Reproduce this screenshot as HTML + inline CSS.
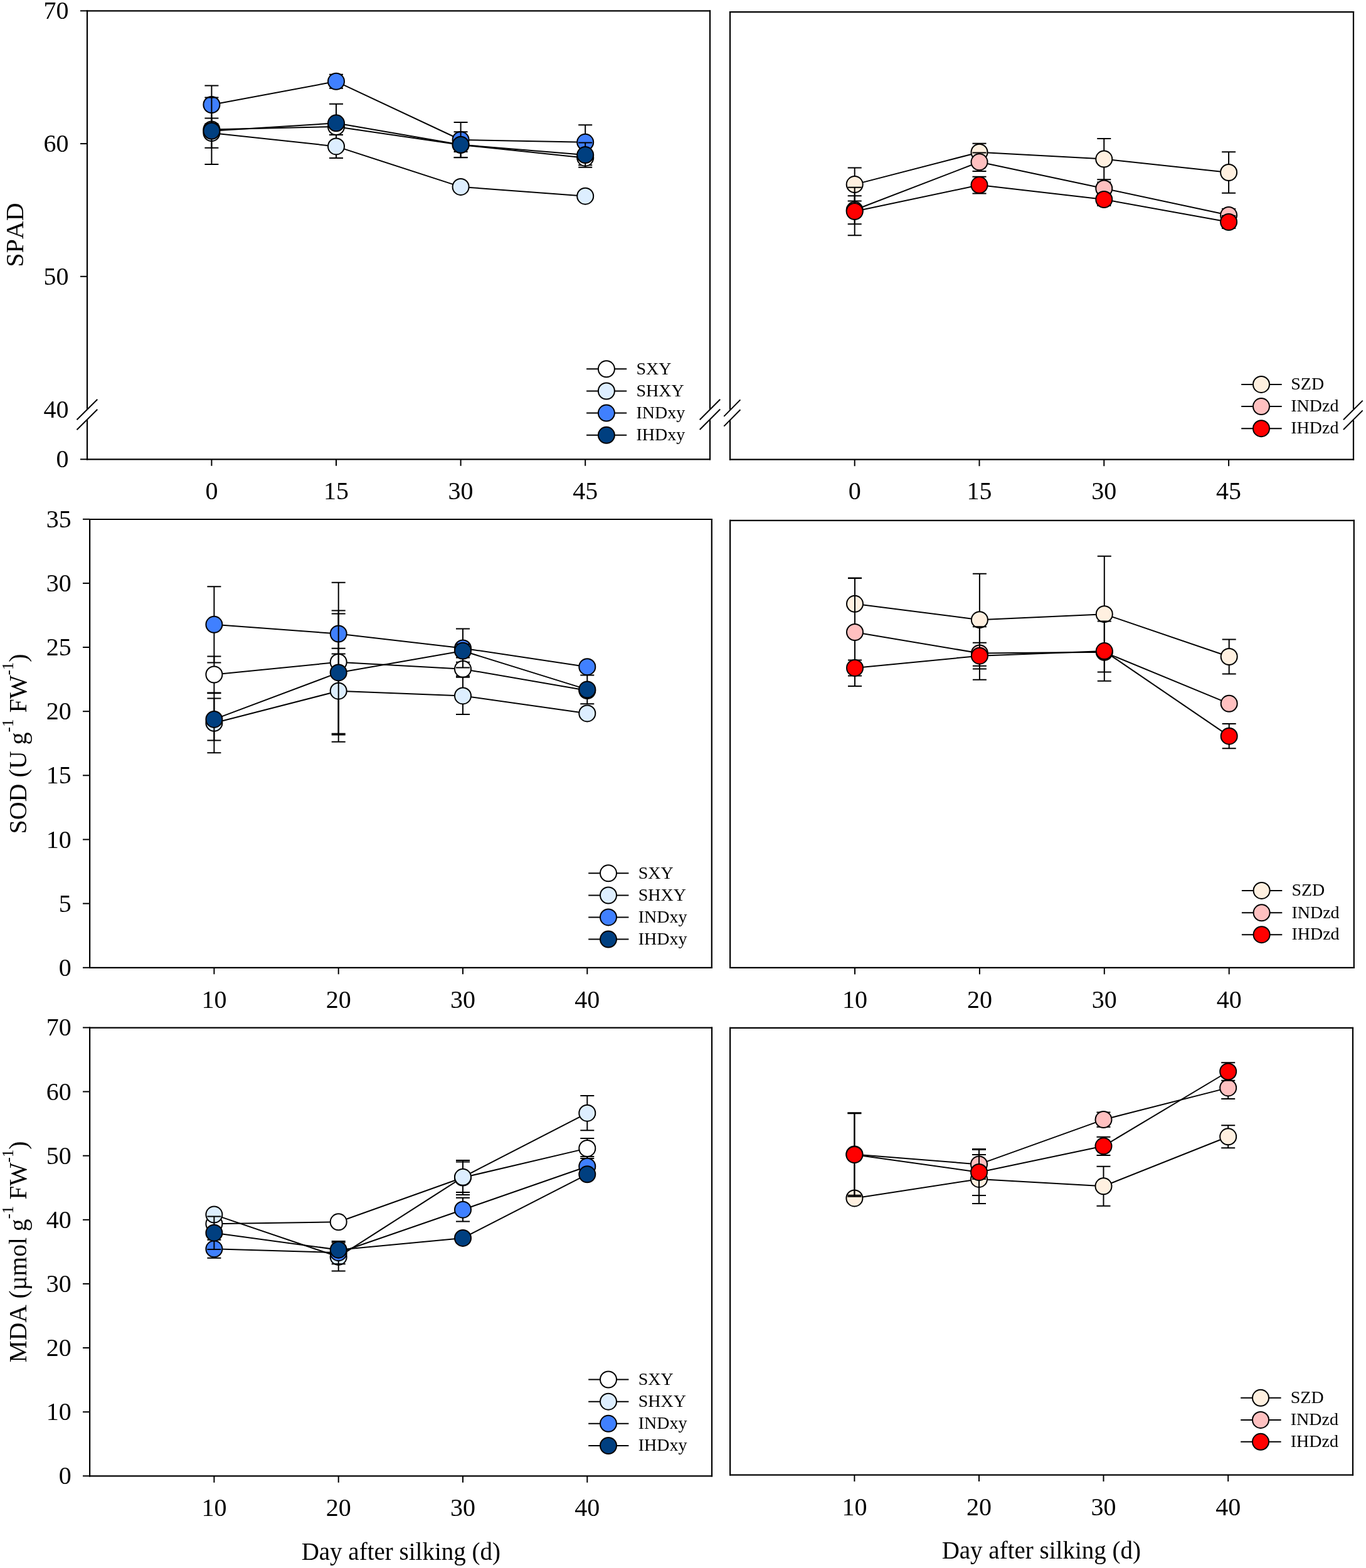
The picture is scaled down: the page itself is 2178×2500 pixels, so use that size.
<!DOCTYPE html><html><head><meta charset="utf-8"><title>Figure</title><style>html,body{margin:0;padding:0;background:#fff}svg{display:block}text{font-family:'Liberation Serif', 'Times New Roman', serif;fill:#000;font-kerning:none}</style></head><body>
<svg width="2178" height="2500" viewBox="0 0 2178 2500">
<rect width="2178" height="2500" fill="#fff"/>
<line x1="139.0" y1="17.3" x2="1132.0" y2="17.3" stroke="#000" stroke-width="2.2" stroke-linecap="square"/>
<line x1="139.0" y1="732.3" x2="1132.0" y2="732.3" stroke="#000" stroke-width="2.2" stroke-linecap="square"/>
<line x1="139.0" y1="17.3" x2="139.0" y2="651.6" stroke="#000" stroke-width="2.2" stroke-linecap="square"/>
<line x1="139.0" y1="670.2" x2="139.0" y2="732.3" stroke="#000" stroke-width="2.2" stroke-linecap="square"/>
<line x1="1132.0" y1="17.3" x2="1132.0" y2="651.8" stroke="#000" stroke-width="2.2" stroke-linecap="square"/>
<line x1="1132.0" y1="670.2" x2="1132.0" y2="732.3" stroke="#000" stroke-width="2.2" stroke-linecap="square"/>
<line x1="1164.0" y1="19.1" x2="2158.0" y2="19.1" stroke="#000" stroke-width="2.2" stroke-linecap="square"/>
<line x1="1164.0" y1="732.7" x2="2158.0" y2="732.7" stroke="#000" stroke-width="2.2" stroke-linecap="square"/>
<line x1="1164.0" y1="19.1" x2="1164.0" y2="652.6" stroke="#000" stroke-width="2.2" stroke-linecap="square"/>
<line x1="1164.0" y1="670.6" x2="1164.0" y2="732.7" stroke="#000" stroke-width="2.2" stroke-linecap="square"/>
<line x1="2158.0" y1="19.1" x2="2158.0" y2="651.2" stroke="#000" stroke-width="2.2" stroke-linecap="square"/>
<line x1="2158.0" y1="671.2" x2="2158.0" y2="732.7" stroke="#000" stroke-width="2.2" stroke-linecap="square"/>
<line x1="122.5" y1="669.2" x2="155.3" y2="636.7" stroke="#000" stroke-width="2.0"/>
<line x1="122.5" y1="685.3" x2="155.3" y2="652.8" stroke="#000" stroke-width="2.0"/>
<line x1="1115.7" y1="669.2" x2="1148.2" y2="636.7" stroke="#000" stroke-width="2.0"/>
<line x1="1115.7" y1="685.0" x2="1148.2" y2="652.5" stroke="#000" stroke-width="2.0"/>
<line x1="1154.3" y1="663.9" x2="1180.4" y2="637.4" stroke="#000" stroke-width="2.0"/>
<line x1="1154.3" y1="679.6" x2="1180.4" y2="653.2" stroke="#000" stroke-width="2.0"/>
<line x1="2142.0" y1="669.3" x2="2172.7" y2="638.6" stroke="#000" stroke-width="2.0"/>
<line x1="2142.0" y1="685.0" x2="2172.7" y2="654.4" stroke="#000" stroke-width="2.0"/>
<line x1="128.0" y1="17.3" x2="139.0" y2="17.3" stroke="#000" stroke-width="2.0"/>
<text x="109.5" y="30.3" font-size="40" text-anchor="end">70</text>
<line x1="128.0" y1="229.1" x2="139.0" y2="229.1" stroke="#000" stroke-width="2.0"/>
<text x="109.5" y="242.1" font-size="40" text-anchor="end">60</text>
<line x1="128.0" y1="440.8" x2="139.0" y2="440.8" stroke="#000" stroke-width="2.0"/>
<text x="109.5" y="453.8" font-size="40" text-anchor="end">50</text>
<text x="109.5" y="665.6" font-size="40" text-anchor="end">40</text>
<line x1="128.0" y1="732.3" x2="139.0" y2="732.3" stroke="#000" stroke-width="2.0"/>
<text x="109.5" y="745.3" font-size="40" text-anchor="end">0</text>
<line x1="337.4" y1="732.3" x2="337.4" y2="742.8" stroke="#000" stroke-width="2.0"/>
<text x="337.4" y="796.2" font-size="40" text-anchor="middle">0</text>
<line x1="536.0" y1="732.3" x2="536.0" y2="742.8" stroke="#000" stroke-width="2.0"/>
<text x="536.0" y="796.2" font-size="40" text-anchor="middle">15</text>
<line x1="734.6" y1="732.3" x2="734.6" y2="742.8" stroke="#000" stroke-width="2.0"/>
<text x="734.6" y="796.2" font-size="40" text-anchor="middle">30</text>
<line x1="933.2" y1="732.3" x2="933.2" y2="742.8" stroke="#000" stroke-width="2.0"/>
<text x="933.2" y="796.2" font-size="40" text-anchor="middle">45</text>
<line x1="1362.7" y1="732.7" x2="1362.7" y2="743.2" stroke="#000" stroke-width="2.0"/>
<text x="1362.7" y="796.2" font-size="40" text-anchor="middle">0</text>
<line x1="1561.5" y1="732.7" x2="1561.5" y2="743.2" stroke="#000" stroke-width="2.0"/>
<text x="1561.5" y="796.2" font-size="40" text-anchor="middle">15</text>
<line x1="1760.3" y1="732.7" x2="1760.3" y2="743.2" stroke="#000" stroke-width="2.0"/>
<text x="1760.3" y="796.2" font-size="40" text-anchor="middle">30</text>
<line x1="1959.1" y1="732.7" x2="1959.1" y2="743.2" stroke="#000" stroke-width="2.0"/>
<text x="1959.1" y="796.2" font-size="40" text-anchor="middle">45</text>
<text x="0" y="0" font-size="40" text-anchor="middle" transform="translate(36.8 374.6) rotate(-90)">SPAD</text>
<polyline points="337.4,206.4 536.0,202.0 734.6,231.0 933.2,251.7" fill="none" stroke="#000" stroke-width="2.0" stroke-linejoin="round"/>
<path d="M536.0 165.8V238.2M525.0 165.8H547.0M525.0 238.2H547.0" stroke="#000" stroke-width="2.0" fill="none"/>
<path d="M734.6 220.0V242.0M723.6 220.0H745.6M723.6 242.0H745.6" stroke="#000" stroke-width="2.0" fill="none"/>
<path d="M933.2 240.1V263.3M922.2 240.1H944.2M922.2 263.3H944.2" stroke="#000" stroke-width="2.0" fill="none"/>
<circle cx="337.4" cy="206.4" r="13.0" fill="#FFFFFF" stroke="#000" stroke-width="2.0"/>
<circle cx="536.0" cy="202.0" r="13.0" fill="#FFFFFF" stroke="#000" stroke-width="2.0"/>
<circle cx="734.6" cy="231.0" r="13.0" fill="#FFFFFF" stroke="#000" stroke-width="2.0"/>
<circle cx="933.2" cy="251.7" r="13.0" fill="#FFFFFF" stroke="#000" stroke-width="2.0"/>
<polyline points="337.4,212.1 536.0,233.4 734.6,297.9 933.2,312.7" fill="none" stroke="#000" stroke-width="2.0" stroke-linejoin="round"/>
<path d="M337.4 188.4V235.8M326.4 188.4H348.4M326.4 235.8H348.4" stroke="#000" stroke-width="2.0" fill="none"/>
<path d="M536.0 214.9V251.9M525.0 214.9H547.0M525.0 251.9H547.0" stroke="#000" stroke-width="2.0" fill="none"/>
<circle cx="337.4" cy="212.1" r="13.0" fill="#DDEEFF" stroke="#000" stroke-width="2.0"/>
<circle cx="536.0" cy="233.4" r="13.0" fill="#DDEEFF" stroke="#000" stroke-width="2.0"/>
<circle cx="734.6" cy="297.9" r="13.0" fill="#DDEEFF" stroke="#000" stroke-width="2.0"/>
<circle cx="933.2" cy="312.7" r="13.0" fill="#DDEEFF" stroke="#000" stroke-width="2.0"/>
<polyline points="337.4,167.0 536.0,129.8 734.6,223.0 933.2,226.8" fill="none" stroke="#000" stroke-width="2.0" stroke-linejoin="round"/>
<path d="M337.4 136.5V197.5M326.4 136.5H348.4M326.4 197.5H348.4" stroke="#000" stroke-width="2.0" fill="none"/>
<path d="M536.0 118.8V140.8M525.0 118.8H547.0M525.0 140.8H547.0" stroke="#000" stroke-width="2.0" fill="none"/>
<path d="M734.6 195.0V251.0M723.6 195.0H745.6M723.6 251.0H745.6" stroke="#000" stroke-width="2.0" fill="none"/>
<path d="M933.2 199.2V254.4M922.2 199.2H944.2M922.2 254.4H944.2" stroke="#000" stroke-width="2.0" fill="none"/>
<circle cx="337.4" cy="167.0" r="13.0" fill="#4080FF" stroke="#000" stroke-width="2.0"/>
<circle cx="536.0" cy="129.8" r="13.0" fill="#4080FF" stroke="#000" stroke-width="2.0"/>
<circle cx="734.6" cy="223.0" r="13.0" fill="#4080FF" stroke="#000" stroke-width="2.0"/>
<circle cx="933.2" cy="226.8" r="13.0" fill="#4080FF" stroke="#000" stroke-width="2.0"/>
<polyline points="337.4,208.8 536.0,196.3 734.6,230.7 933.2,247.1" fill="none" stroke="#000" stroke-width="2.0" stroke-linejoin="round"/>
<path d="M337.4 155.5V262.1M326.4 155.5H348.4M326.4 262.1H348.4" stroke="#000" stroke-width="2.0" fill="none"/>
<path d="M734.6 210.2V251.2M723.6 210.2H745.6M723.6 251.2H745.6" stroke="#000" stroke-width="2.0" fill="none"/>
<path d="M933.2 227.5V266.7M922.2 227.5H944.2M922.2 266.7H944.2" stroke="#000" stroke-width="2.0" fill="none"/>
<circle cx="337.4" cy="208.8" r="13.0" fill="#003F80" stroke="#000" stroke-width="2.0"/>
<circle cx="536.0" cy="196.3" r="13.0" fill="#003F80" stroke="#000" stroke-width="2.0"/>
<circle cx="734.6" cy="230.7" r="13.0" fill="#003F80" stroke="#000" stroke-width="2.0"/>
<circle cx="933.2" cy="247.1" r="13.0" fill="#003F80" stroke="#000" stroke-width="2.0"/>
<line x1="935.1" y1="588.3" x2="999.2" y2="588.3" stroke="#000" stroke-width="2.0"/>
<circle cx="966.9" cy="588.3" r="13.0" fill="#FFFFFF" stroke="#000" stroke-width="2.0"/>
<text x="1014.5" y="596.5" font-size="28" text-anchor="start">SXY</text>
<line x1="935.1" y1="623.5" x2="999.2" y2="623.5" stroke="#000" stroke-width="2.0"/>
<circle cx="966.9" cy="623.5" r="13.0" fill="#DDEEFF" stroke="#000" stroke-width="2.0"/>
<text x="1014.5" y="631.7" font-size="28" text-anchor="start">SHXY</text>
<line x1="935.1" y1="658.6" x2="999.2" y2="658.6" stroke="#000" stroke-width="2.0"/>
<circle cx="966.9" cy="658.6" r="13.0" fill="#4080FF" stroke="#000" stroke-width="2.0"/>
<text x="1014.5" y="666.8" font-size="28" text-anchor="start">INDxy</text>
<line x1="935.1" y1="693.8" x2="999.2" y2="693.8" stroke="#000" stroke-width="2.0"/>
<circle cx="966.9" cy="693.8" r="13.0" fill="#003F80" stroke="#000" stroke-width="2.0"/>
<text x="1014.5" y="702.0" font-size="28" text-anchor="start">IHDxy</text>
<polyline points="1362.7,294.1 1561.5,242.7 1760.3,253.6 1959.1,275.0" fill="none" stroke="#000" stroke-width="2.0" stroke-linejoin="round"/>
<path d="M1362.7 267.6V320.6M1351.7 267.6H1373.7M1351.7 320.6H1373.7" stroke="#000" stroke-width="2.0" fill="none"/>
<path d="M1561.5 228.8V256.6M1550.5 228.8H1572.5M1550.5 256.6H1572.5" stroke="#000" stroke-width="2.0" fill="none"/>
<path d="M1760.3 220.9V286.3M1749.3 220.9H1771.3M1749.3 286.3H1771.3" stroke="#000" stroke-width="2.0" fill="none"/>
<path d="M1959.1 242.3V307.7M1948.1 242.3H1970.1M1948.1 307.7H1970.1" stroke="#000" stroke-width="2.0" fill="none"/>
<circle cx="1362.7" cy="294.1" r="13.0" fill="#FFF0E0" stroke="#000" stroke-width="2.0"/>
<circle cx="1561.5" cy="242.7" r="13.0" fill="#FFF0E0" stroke="#000" stroke-width="2.0"/>
<circle cx="1760.3" cy="253.6" r="13.0" fill="#FFF0E0" stroke="#000" stroke-width="2.0"/>
<circle cx="1959.1" cy="275.0" r="13.0" fill="#FFF0E0" stroke="#000" stroke-width="2.0"/>
<polyline points="1362.7,334.8 1561.5,258.3 1760.3,300.5 1959.1,343.1" fill="none" stroke="#000" stroke-width="2.0" stroke-linejoin="round"/>
<path d="M1362.7 312.3V357.3M1351.7 312.3H1373.7M1351.7 357.3H1373.7" stroke="#000" stroke-width="2.0" fill="none"/>
<path d="M1561.5 243.5V273.1M1550.5 243.5H1572.5M1550.5 273.1H1572.5" stroke="#000" stroke-width="2.0" fill="none"/>
<path d="M1760.3 290.5V310.5M1749.3 290.5H1771.3M1749.3 310.5H1771.3" stroke="#000" stroke-width="2.0" fill="none"/>
<path d="M1959.1 333.1V353.1M1948.1 333.1H1970.1M1948.1 353.1H1970.1" stroke="#000" stroke-width="2.0" fill="none"/>
<circle cx="1362.7" cy="334.8" r="13.0" fill="#FFC0C0" stroke="#000" stroke-width="2.0"/>
<circle cx="1561.5" cy="258.3" r="13.0" fill="#FFC0C0" stroke="#000" stroke-width="2.0"/>
<circle cx="1760.3" cy="300.5" r="13.0" fill="#FFC0C0" stroke="#000" stroke-width="2.0"/>
<circle cx="1959.1" cy="343.1" r="13.0" fill="#FFC0C0" stroke="#000" stroke-width="2.0"/>
<polyline points="1362.7,337.0 1561.5,295.1 1760.3,318.0 1959.1,354.0" fill="none" stroke="#000" stroke-width="2.0" stroke-linejoin="round"/>
<path d="M1362.7 298.7V375.3M1351.7 298.7H1373.7M1351.7 375.3H1373.7" stroke="#000" stroke-width="2.0" fill="none"/>
<path d="M1561.5 281.7V308.5M1550.5 281.7H1572.5M1550.5 308.5H1572.5" stroke="#000" stroke-width="2.0" fill="none"/>
<path d="M1760.3 308.0V328.0M1749.3 308.0H1771.3M1749.3 328.0H1771.3" stroke="#000" stroke-width="2.0" fill="none"/>
<path d="M1959.1 344.0V364.0M1948.1 344.0H1970.1M1948.1 364.0H1970.1" stroke="#000" stroke-width="2.0" fill="none"/>
<circle cx="1362.7" cy="337.0" r="13.0" fill="#FF0000" stroke="#000" stroke-width="2.0"/>
<circle cx="1561.5" cy="295.1" r="13.0" fill="#FF0000" stroke="#000" stroke-width="2.0"/>
<circle cx="1760.3" cy="318.0" r="13.0" fill="#FF0000" stroke="#000" stroke-width="2.0"/>
<circle cx="1959.1" cy="354.0" r="13.0" fill="#FF0000" stroke="#000" stroke-width="2.0"/>
<line x1="1979.2" y1="612.9" x2="2043.7" y2="612.9" stroke="#000" stroke-width="2.0"/>
<circle cx="2011.0" cy="612.9" r="13.0" fill="#FFF0E0" stroke="#000" stroke-width="2.0"/>
<text x="2058.3" y="621.1" font-size="28" text-anchor="start">SZD</text>
<line x1="1979.2" y1="648.1" x2="2043.7" y2="648.1" stroke="#000" stroke-width="2.0"/>
<circle cx="2011.0" cy="648.1" r="13.0" fill="#FFC0C0" stroke="#000" stroke-width="2.0"/>
<text x="2058.3" y="656.3" font-size="28" text-anchor="start">INDzd</text>
<line x1="1979.2" y1="683.2" x2="2043.7" y2="683.2" stroke="#000" stroke-width="2.0"/>
<circle cx="2011.0" cy="683.2" r="13.0" fill="#FF0000" stroke="#000" stroke-width="2.0"/>
<text x="2058.3" y="691.4" font-size="28" text-anchor="start">IHDzd</text>
<line x1="143.1" y1="828.0" x2="1134.8" y2="828.0" stroke="#000" stroke-width="2.2" stroke-linecap="square"/>
<line x1="143.1" y1="1542.8" x2="1134.8" y2="1542.8" stroke="#000" stroke-width="2.2" stroke-linecap="square"/>
<line x1="143.1" y1="828.0" x2="143.1" y2="1542.8" stroke="#000" stroke-width="2.2" stroke-linecap="square"/>
<line x1="1134.8" y1="828.0" x2="1134.8" y2="1542.8" stroke="#000" stroke-width="2.2" stroke-linecap="square"/>
<line x1="1164.1" y1="829.8" x2="2158.8" y2="829.8" stroke="#000" stroke-width="2.2" stroke-linecap="square"/>
<line x1="1164.1" y1="1542.9" x2="2158.8" y2="1542.9" stroke="#000" stroke-width="2.2" stroke-linecap="square"/>
<line x1="1164.1" y1="829.8" x2="1164.1" y2="1542.9" stroke="#000" stroke-width="2.2" stroke-linecap="square"/>
<line x1="2158.8" y1="829.8" x2="2158.8" y2="1542.9" stroke="#000" stroke-width="2.2" stroke-linecap="square"/>
<line x1="132.0" y1="1542.8" x2="143.1" y2="1542.8" stroke="#000" stroke-width="2.0"/>
<text x="113.8" y="1555.8" font-size="40" text-anchor="end">0</text>
<line x1="132.0" y1="1440.6" x2="143.1" y2="1440.6" stroke="#000" stroke-width="2.0"/>
<text x="113.8" y="1453.6" font-size="40" text-anchor="end">5</text>
<line x1="132.0" y1="1338.5" x2="143.1" y2="1338.5" stroke="#000" stroke-width="2.0"/>
<text x="113.8" y="1351.5" font-size="40" text-anchor="end">10</text>
<line x1="132.0" y1="1236.3" x2="143.1" y2="1236.3" stroke="#000" stroke-width="2.0"/>
<text x="113.8" y="1249.3" font-size="40" text-anchor="end">15</text>
<line x1="132.0" y1="1134.2" x2="143.1" y2="1134.2" stroke="#000" stroke-width="2.0"/>
<text x="113.8" y="1147.2" font-size="40" text-anchor="end">20</text>
<line x1="132.0" y1="1032.0" x2="143.1" y2="1032.0" stroke="#000" stroke-width="2.0"/>
<text x="113.8" y="1045.0" font-size="40" text-anchor="end">25</text>
<line x1="132.0" y1="929.9" x2="143.1" y2="929.9" stroke="#000" stroke-width="2.0"/>
<text x="113.8" y="942.9" font-size="40" text-anchor="end">30</text>
<line x1="132.0" y1="827.8" x2="143.1" y2="827.8" stroke="#000" stroke-width="2.0"/>
<text x="113.8" y="840.8" font-size="40" text-anchor="end">35</text>
<line x1="341.4" y1="1542.8" x2="341.4" y2="1553.3" stroke="#000" stroke-width="2.0"/>
<text x="341.4" y="1607.2" font-size="40" text-anchor="middle">10</text>
<line x1="539.7" y1="1542.8" x2="539.7" y2="1553.3" stroke="#000" stroke-width="2.0"/>
<text x="539.7" y="1607.2" font-size="40" text-anchor="middle">20</text>
<line x1="738.0" y1="1542.8" x2="738.0" y2="1553.3" stroke="#000" stroke-width="2.0"/>
<text x="738.0" y="1607.2" font-size="40" text-anchor="middle">30</text>
<line x1="936.3" y1="1542.8" x2="936.3" y2="1553.3" stroke="#000" stroke-width="2.0"/>
<text x="936.3" y="1607.2" font-size="40" text-anchor="middle">40</text>
<line x1="1363.0" y1="1542.9" x2="1363.0" y2="1553.4" stroke="#000" stroke-width="2.0"/>
<text x="1363.0" y="1607.2" font-size="40" text-anchor="middle">10</text>
<line x1="1561.9" y1="1542.9" x2="1561.9" y2="1553.4" stroke="#000" stroke-width="2.0"/>
<text x="1561.9" y="1607.2" font-size="40" text-anchor="middle">20</text>
<line x1="1760.8" y1="1542.9" x2="1760.8" y2="1553.4" stroke="#000" stroke-width="2.0"/>
<text x="1760.8" y="1607.2" font-size="40" text-anchor="middle">30</text>
<line x1="1959.7" y1="1542.9" x2="1959.7" y2="1553.4" stroke="#000" stroke-width="2.0"/>
<text x="1959.7" y="1607.2" font-size="40" text-anchor="middle">40</text>
<text x="0" y="0" font-size="40" text-anchor="middle" transform="translate(41.5 1186.0) rotate(-90)">SOD (U g<tspan font-size="25" dy="-20.7">-1</tspan><tspan dy="20.7"> FW</tspan><tspan font-size="25" dy="-20.7">-1</tspan><tspan dy="20.7">)</tspan></text>
<polyline points="341.4,1075.5 539.7,1055.7 738.0,1066.7 936.3,1101.0" fill="none" stroke="#000" stroke-width="2.0" stroke-linejoin="round"/>
<path d="M341.4 1046.5V1104.5M330.4 1046.5H352.4M330.4 1104.5H352.4" stroke="#000" stroke-width="2.0" fill="none"/>
<path d="M539.7 928.7V1182.7M528.7 928.7H550.7M528.7 1182.7H550.7" stroke="#000" stroke-width="2.0" fill="none"/>
<path d="M738.0 1055.7V1077.7M727.0 1055.7H749.0M727.0 1077.7H749.0" stroke="#000" stroke-width="2.0" fill="none"/>
<circle cx="341.4" cy="1075.5" r="13.0" fill="#FFFFFF" stroke="#000" stroke-width="2.0"/>
<circle cx="539.7" cy="1055.7" r="13.0" fill="#FFFFFF" stroke="#000" stroke-width="2.0"/>
<circle cx="738.0" cy="1066.7" r="13.0" fill="#FFFFFF" stroke="#000" stroke-width="2.0"/>
<circle cx="936.3" cy="1101.0" r="13.0" fill="#FFFFFF" stroke="#000" stroke-width="2.0"/>
<polyline points="341.4,1152.8 539.7,1101.7 738.0,1109.4 936.3,1137.4" fill="none" stroke="#000" stroke-width="2.0" stroke-linejoin="round"/>
<path d="M341.4 1105.3V1200.3M330.4 1105.3H352.4M330.4 1200.3H352.4" stroke="#000" stroke-width="2.0" fill="none"/>
<path d="M539.7 1033.7V1169.7M528.7 1033.7H550.7M528.7 1169.7H550.7" stroke="#000" stroke-width="2.0" fill="none"/>
<path d="M738.0 1079.8V1139.0M727.0 1079.8H749.0M727.0 1139.0H749.0" stroke="#000" stroke-width="2.0" fill="none"/>
<circle cx="341.4" cy="1152.8" r="13.0" fill="#DDEEFF" stroke="#000" stroke-width="2.0"/>
<circle cx="539.7" cy="1101.7" r="13.0" fill="#DDEEFF" stroke="#000" stroke-width="2.0"/>
<circle cx="738.0" cy="1109.4" r="13.0" fill="#DDEEFF" stroke="#000" stroke-width="2.0"/>
<circle cx="936.3" cy="1137.4" r="13.0" fill="#DDEEFF" stroke="#000" stroke-width="2.0"/>
<polyline points="341.4,995.8 539.7,1010.5 738.0,1033.5 936.3,1063.2" fill="none" stroke="#000" stroke-width="2.0" stroke-linejoin="round"/>
<path d="M341.4 935.2V1056.4M330.4 935.2H352.4M330.4 1056.4H352.4" stroke="#000" stroke-width="2.0" fill="none"/>
<path d="M539.7 978.5V1042.5M528.7 978.5H550.7M528.7 1042.5H550.7" stroke="#000" stroke-width="2.0" fill="none"/>
<path d="M738.0 1002.5V1064.5M727.0 1002.5H749.0M727.0 1064.5H749.0" stroke="#000" stroke-width="2.0" fill="none"/>
<circle cx="341.4" cy="995.8" r="13.0" fill="#4080FF" stroke="#000" stroke-width="2.0"/>
<circle cx="539.7" cy="1010.5" r="13.0" fill="#4080FF" stroke="#000" stroke-width="2.0"/>
<circle cx="738.0" cy="1033.5" r="13.0" fill="#4080FF" stroke="#000" stroke-width="2.0"/>
<circle cx="936.3" cy="1063.2" r="13.0" fill="#4080FF" stroke="#000" stroke-width="2.0"/>
<polyline points="341.4,1146.9 539.7,1072.4 738.0,1037.8 936.3,1099.4" fill="none" stroke="#000" stroke-width="2.0" stroke-linejoin="round"/>
<path d="M341.4 1113.4V1180.4M330.4 1113.4H352.4M330.4 1180.4H352.4" stroke="#000" stroke-width="2.0" fill="none"/>
<path d="M539.7 973.4V1171.4M528.7 973.4H550.7M528.7 1171.4H550.7" stroke="#000" stroke-width="2.0" fill="none"/>
<path d="M738.0 1027.0V1048.6M727.0 1027.0H749.0M727.0 1048.6H749.0" stroke="#000" stroke-width="2.0" fill="none"/>
<path d="M936.3 1076.6V1122.2M925.3 1076.6H947.3M925.3 1122.2H947.3" stroke="#000" stroke-width="2.0" fill="none"/>
<circle cx="341.4" cy="1146.9" r="13.0" fill="#003F80" stroke="#000" stroke-width="2.0"/>
<circle cx="539.7" cy="1072.4" r="13.0" fill="#003F80" stroke="#000" stroke-width="2.0"/>
<circle cx="738.0" cy="1037.8" r="13.0" fill="#003F80" stroke="#000" stroke-width="2.0"/>
<circle cx="936.3" cy="1099.4" r="13.0" fill="#003F80" stroke="#000" stroke-width="2.0"/>
<line x1="938.2" y1="1392.3" x2="1002.4" y2="1392.3" stroke="#000" stroke-width="2.0"/>
<circle cx="970.0" cy="1392.3" r="13.0" fill="#FFFFFF" stroke="#000" stroke-width="2.0"/>
<text x="1017.8" y="1400.5" font-size="28" text-anchor="start">SXY</text>
<line x1="938.2" y1="1427.5" x2="1002.4" y2="1427.5" stroke="#000" stroke-width="2.0"/>
<circle cx="970.0" cy="1427.5" r="13.0" fill="#DDEEFF" stroke="#000" stroke-width="2.0"/>
<text x="1017.8" y="1435.7" font-size="28" text-anchor="start">SHXY</text>
<line x1="938.2" y1="1462.4" x2="1002.4" y2="1462.4" stroke="#000" stroke-width="2.0"/>
<circle cx="970.0" cy="1462.4" r="13.0" fill="#4080FF" stroke="#000" stroke-width="2.0"/>
<text x="1017.8" y="1470.6" font-size="28" text-anchor="start">INDxy</text>
<line x1="938.2" y1="1497.6" x2="1002.4" y2="1497.6" stroke="#000" stroke-width="2.0"/>
<circle cx="970.0" cy="1497.6" r="13.0" fill="#003F80" stroke="#000" stroke-width="2.0"/>
<text x="1017.8" y="1505.8" font-size="28" text-anchor="start">IHDxy</text>
<polyline points="1363.0,962.8 1561.9,988.2 1760.8,979.2 1959.7,1047.0" fill="none" stroke="#000" stroke-width="2.0" stroke-linejoin="round"/>
<path d="M1363.0 921.4V1004.2M1352.0 921.4H1374.0M1352.0 1004.2H1374.0" stroke="#000" stroke-width="2.0" fill="none"/>
<path d="M1561.9 914.7V1061.7M1550.9 914.7H1572.9M1550.9 1061.7H1572.9" stroke="#000" stroke-width="2.0" fill="none"/>
<path d="M1760.8 886.8V1071.6M1749.8 886.8H1771.8M1749.8 1071.6H1771.8" stroke="#000" stroke-width="2.0" fill="none"/>
<path d="M1959.7 1019.6V1074.4M1948.7 1019.6H1970.7M1948.7 1074.4H1970.7" stroke="#000" stroke-width="2.0" fill="none"/>
<circle cx="1363.0" cy="962.8" r="13.0" fill="#FFF0E0" stroke="#000" stroke-width="2.0"/>
<circle cx="1561.9" cy="988.2" r="13.0" fill="#FFF0E0" stroke="#000" stroke-width="2.0"/>
<circle cx="1760.8" cy="979.2" r="13.0" fill="#FFF0E0" stroke="#000" stroke-width="2.0"/>
<circle cx="1959.7" cy="1047.0" r="13.0" fill="#FFF0E0" stroke="#000" stroke-width="2.0"/>
<polyline points="1363.0,1008.0 1561.9,1041.5 1760.8,1039.8 1959.7,1121.8" fill="none" stroke="#000" stroke-width="2.0" stroke-linejoin="round"/>
<path d="M1363.0 922.0V1094.0M1352.0 922.0H1374.0M1352.0 1094.0H1374.0" stroke="#000" stroke-width="2.0" fill="none"/>
<path d="M1561.9 999.2V1083.8M1550.9 999.2H1572.9M1550.9 1083.8H1572.9" stroke="#000" stroke-width="2.0" fill="none"/>
<circle cx="1363.0" cy="1008.0" r="13.0" fill="#FFC0C0" stroke="#000" stroke-width="2.0"/>
<circle cx="1561.9" cy="1041.5" r="13.0" fill="#FFC0C0" stroke="#000" stroke-width="2.0"/>
<circle cx="1760.8" cy="1039.8" r="13.0" fill="#FFC0C0" stroke="#000" stroke-width="2.0"/>
<circle cx="1959.7" cy="1121.8" r="13.0" fill="#FFC0C0" stroke="#000" stroke-width="2.0"/>
<polyline points="1363.0,1064.9 1561.9,1045.7 1760.8,1038.1 1959.7,1173.7" fill="none" stroke="#000" stroke-width="2.0" stroke-linejoin="round"/>
<path d="M1363.0 1052.4V1077.4M1352.0 1052.4H1374.0M1352.0 1077.4H1374.0" stroke="#000" stroke-width="2.0" fill="none"/>
<path d="M1561.9 1024.8V1066.6M1550.9 1024.8H1572.9M1550.9 1066.6H1572.9" stroke="#000" stroke-width="2.0" fill="none"/>
<path d="M1760.8 990.4V1085.8M1749.8 990.4H1771.8M1749.8 1085.8H1771.8" stroke="#000" stroke-width="2.0" fill="none"/>
<path d="M1959.7 1154.1V1193.3M1948.7 1154.1H1970.7M1948.7 1193.3H1970.7" stroke="#000" stroke-width="2.0" fill="none"/>
<circle cx="1363.0" cy="1064.9" r="13.0" fill="#FF0000" stroke="#000" stroke-width="2.0"/>
<circle cx="1561.9" cy="1045.7" r="13.0" fill="#FF0000" stroke="#000" stroke-width="2.0"/>
<circle cx="1760.8" cy="1038.1" r="13.0" fill="#FF0000" stroke="#000" stroke-width="2.0"/>
<circle cx="1959.7" cy="1173.7" r="13.0" fill="#FF0000" stroke="#000" stroke-width="2.0"/>
<line x1="1979.9" y1="1419.9" x2="2044.3" y2="1419.9" stroke="#000" stroke-width="2.0"/>
<circle cx="2011.6" cy="1419.9" r="13.0" fill="#FFF0E0" stroke="#000" stroke-width="2.0"/>
<text x="2059.4" y="1428.1" font-size="28" text-anchor="start">SZD</text>
<line x1="1979.9" y1="1455.3" x2="2044.3" y2="1455.3" stroke="#000" stroke-width="2.0"/>
<circle cx="2011.6" cy="1455.3" r="13.0" fill="#FFC0C0" stroke="#000" stroke-width="2.0"/>
<text x="2059.4" y="1463.5" font-size="28" text-anchor="start">INDzd</text>
<line x1="1979.9" y1="1490.2" x2="2044.3" y2="1490.2" stroke="#000" stroke-width="2.0"/>
<circle cx="2011.6" cy="1490.2" r="13.0" fill="#FF0000" stroke="#000" stroke-width="2.0"/>
<text x="2059.4" y="1498.4" font-size="28" text-anchor="start">IHDzd</text>
<line x1="143.1" y1="1638.6" x2="1135.0" y2="1638.6" stroke="#000" stroke-width="2.2" stroke-linecap="square"/>
<line x1="143.1" y1="2353.3" x2="1135.0" y2="2353.3" stroke="#000" stroke-width="2.2" stroke-linecap="square"/>
<line x1="143.1" y1="1638.6" x2="143.1" y2="2353.3" stroke="#000" stroke-width="2.2" stroke-linecap="square"/>
<line x1="1135.0" y1="1638.6" x2="1135.0" y2="2353.3" stroke="#000" stroke-width="2.2" stroke-linecap="square"/>
<line x1="1164.1" y1="1638.8" x2="2157.0" y2="1638.8" stroke="#000" stroke-width="2.2" stroke-linecap="square"/>
<line x1="1164.1" y1="2351.6" x2="2157.0" y2="2351.6" stroke="#000" stroke-width="2.2" stroke-linecap="square"/>
<line x1="1164.1" y1="1638.8" x2="1164.1" y2="2351.6" stroke="#000" stroke-width="2.2" stroke-linecap="square"/>
<line x1="2157.0" y1="1638.8" x2="2157.0" y2="2351.6" stroke="#000" stroke-width="2.2" stroke-linecap="square"/>
<line x1="132.0" y1="2353.3" x2="143.1" y2="2353.3" stroke="#000" stroke-width="2.0"/>
<text x="113.8" y="2366.3" font-size="40" text-anchor="end">0</text>
<line x1="132.0" y1="2251.2" x2="143.1" y2="2251.2" stroke="#000" stroke-width="2.0"/>
<text x="113.8" y="2264.2" font-size="40" text-anchor="end">10</text>
<line x1="132.0" y1="2149.0" x2="143.1" y2="2149.0" stroke="#000" stroke-width="2.0"/>
<text x="113.8" y="2162.0" font-size="40" text-anchor="end">20</text>
<line x1="132.0" y1="2046.9" x2="143.1" y2="2046.9" stroke="#000" stroke-width="2.0"/>
<text x="113.8" y="2059.9" font-size="40" text-anchor="end">30</text>
<line x1="132.0" y1="1944.8" x2="143.1" y2="1944.8" stroke="#000" stroke-width="2.0"/>
<text x="113.8" y="1957.8" font-size="40" text-anchor="end">40</text>
<line x1="132.0" y1="1842.7" x2="143.1" y2="1842.7" stroke="#000" stroke-width="2.0"/>
<text x="113.8" y="1855.7" font-size="40" text-anchor="end">50</text>
<line x1="132.0" y1="1740.5" x2="143.1" y2="1740.5" stroke="#000" stroke-width="2.0"/>
<text x="113.8" y="1753.5" font-size="40" text-anchor="end">60</text>
<line x1="132.0" y1="1638.4" x2="143.1" y2="1638.4" stroke="#000" stroke-width="2.0"/>
<text x="113.8" y="1651.4" font-size="40" text-anchor="end">70</text>
<line x1="341.4" y1="2353.3" x2="341.4" y2="2363.8" stroke="#000" stroke-width="2.0"/>
<text x="341.4" y="2417.0" font-size="40" text-anchor="middle">10</text>
<line x1="539.7" y1="2353.3" x2="539.7" y2="2363.8" stroke="#000" stroke-width="2.0"/>
<text x="539.7" y="2417.0" font-size="40" text-anchor="middle">20</text>
<line x1="738.0" y1="2353.3" x2="738.0" y2="2363.8" stroke="#000" stroke-width="2.0"/>
<text x="738.0" y="2417.0" font-size="40" text-anchor="middle">30</text>
<line x1="936.3" y1="2353.3" x2="936.3" y2="2363.8" stroke="#000" stroke-width="2.0"/>
<text x="936.3" y="2417.0" font-size="40" text-anchor="middle">40</text>
<line x1="1362.4" y1="2351.6" x2="1362.4" y2="2362.1" stroke="#000" stroke-width="2.0"/>
<text x="1362.4" y="2415.5" font-size="40" text-anchor="middle">10</text>
<line x1="1561.0" y1="2351.6" x2="1561.0" y2="2362.1" stroke="#000" stroke-width="2.0"/>
<text x="1561.0" y="2415.5" font-size="40" text-anchor="middle">20</text>
<line x1="1759.5" y1="2351.6" x2="1759.5" y2="2362.1" stroke="#000" stroke-width="2.0"/>
<text x="1759.5" y="2415.5" font-size="40" text-anchor="middle">30</text>
<line x1="1958.2" y1="2351.6" x2="1958.2" y2="2362.1" stroke="#000" stroke-width="2.0"/>
<text x="1958.2" y="2415.5" font-size="40" text-anchor="middle">40</text>
<text x="0" y="0" font-size="39.5" text-anchor="middle" transform="translate(41.5 1996) rotate(-90)">MDA (µmol g<tspan font-size="25" dy="-20.7">-1</tspan><tspan dy="20.7"> FW</tspan><tspan font-size="25" dy="-20.7">-1</tspan><tspan dy="20.7">)</tspan></text>
<text x="639.3" y="2487.1" font-size="39" text-anchor="middle">Day after silking (d)</text>
<text x="1660.3" y="2485.4" font-size="39" text-anchor="middle">Day after silking (d)</text>
<polyline points="341.4,1951.2 539.7,1948.3 738.0,1877.5 936.3,1830.9" fill="none" stroke="#000" stroke-width="2.0" stroke-linejoin="round"/>
<path d="M738.0 1850.1V1904.9M727.0 1850.1H749.0M727.0 1904.9H749.0" stroke="#000" stroke-width="2.0" fill="none"/>
<path d="M936.3 1814.9V1846.9M925.3 1814.9H947.3M925.3 1846.9H947.3" stroke="#000" stroke-width="2.0" fill="none"/>
<circle cx="341.4" cy="1951.2" r="13.0" fill="#FFFFFF" stroke="#000" stroke-width="2.0"/>
<circle cx="539.7" cy="1948.3" r="13.0" fill="#FFFFFF" stroke="#000" stroke-width="2.0"/>
<circle cx="738.0" cy="1877.5" r="13.0" fill="#FFFFFF" stroke="#000" stroke-width="2.0"/>
<circle cx="936.3" cy="1830.9" r="13.0" fill="#FFFFFF" stroke="#000" stroke-width="2.0"/>
<polyline points="341.4,1936.6 539.7,2003.9 738.0,1876.8 936.3,1774.7" fill="none" stroke="#000" stroke-width="2.0" stroke-linejoin="round"/>
<path d="M539.7 1981.3V2026.5M528.7 1981.3H550.7M528.7 2026.5H550.7" stroke="#000" stroke-width="2.0" fill="none"/>
<path d="M738.0 1852.5V1901.1M727.0 1852.5H749.0M727.0 1901.1H749.0" stroke="#000" stroke-width="2.0" fill="none"/>
<path d="M936.3 1747.1V1802.3M925.3 1747.1H947.3M925.3 1802.3H947.3" stroke="#000" stroke-width="2.0" fill="none"/>
<circle cx="341.4" cy="1936.6" r="13.0" fill="#DDEEFF" stroke="#000" stroke-width="2.0"/>
<circle cx="539.7" cy="2003.9" r="13.0" fill="#DDEEFF" stroke="#000" stroke-width="2.0"/>
<circle cx="738.0" cy="1876.8" r="13.0" fill="#DDEEFF" stroke="#000" stroke-width="2.0"/>
<circle cx="936.3" cy="1774.7" r="13.0" fill="#DDEEFF" stroke="#000" stroke-width="2.0"/>
<polyline points="341.4,1991.3 539.7,1997.2 738.0,1928.7 936.3,1859.7" fill="none" stroke="#000" stroke-width="2.0" stroke-linejoin="round"/>
<path d="M341.4 1976.8V2005.8M330.4 1976.8H352.4M330.4 2005.8H352.4" stroke="#000" stroke-width="2.0" fill="none"/>
<path d="M539.7 1979.1V2015.3M528.7 1979.1H550.7M528.7 2015.3H550.7" stroke="#000" stroke-width="2.0" fill="none"/>
<path d="M738.0 1909.8V1947.6M727.0 1909.8H749.0M727.0 1947.6H749.0" stroke="#000" stroke-width="2.0" fill="none"/>
<path d="M936.3 1844.1V1875.3M925.3 1844.1H947.3M925.3 1875.3H947.3" stroke="#000" stroke-width="2.0" fill="none"/>
<circle cx="341.4" cy="1991.3" r="13.0" fill="#4080FF" stroke="#000" stroke-width="2.0"/>
<circle cx="539.7" cy="1997.2" r="13.0" fill="#4080FF" stroke="#000" stroke-width="2.0"/>
<circle cx="738.0" cy="1928.7" r="13.0" fill="#4080FF" stroke="#000" stroke-width="2.0"/>
<circle cx="936.3" cy="1859.7" r="13.0" fill="#4080FF" stroke="#000" stroke-width="2.0"/>
<polyline points="341.4,1965.7 539.7,1992.7 738.0,1973.9 936.3,1872.3" fill="none" stroke="#000" stroke-width="2.0" stroke-linejoin="round"/>
<path d="M341.4 1939.4V1992.0M330.4 1939.4H352.4M330.4 1992.0H352.4" stroke="#000" stroke-width="2.0" fill="none"/>
<circle cx="341.4" cy="1965.7" r="13.0" fill="#003F80" stroke="#000" stroke-width="2.0"/>
<circle cx="539.7" cy="1992.7" r="13.0" fill="#003F80" stroke="#000" stroke-width="2.0"/>
<circle cx="738.0" cy="1973.9" r="13.0" fill="#003F80" stroke="#000" stroke-width="2.0"/>
<circle cx="936.3" cy="1872.3" r="13.0" fill="#003F80" stroke="#000" stroke-width="2.0"/>
<line x1="938.2" y1="2199.5" x2="1002.4" y2="2199.5" stroke="#000" stroke-width="2.0"/>
<circle cx="970.0" cy="2199.5" r="13.0" fill="#FFFFFF" stroke="#000" stroke-width="2.0"/>
<text x="1017.8" y="2207.7" font-size="28" text-anchor="start">SXY</text>
<line x1="938.2" y1="2234.7" x2="1002.4" y2="2234.7" stroke="#000" stroke-width="2.0"/>
<circle cx="970.0" cy="2234.7" r="13.0" fill="#DDEEFF" stroke="#000" stroke-width="2.0"/>
<text x="1017.8" y="2242.9" font-size="28" text-anchor="start">SHXY</text>
<line x1="938.2" y1="2269.8" x2="1002.4" y2="2269.8" stroke="#000" stroke-width="2.0"/>
<circle cx="970.0" cy="2269.8" r="13.0" fill="#4080FF" stroke="#000" stroke-width="2.0"/>
<text x="1017.8" y="2278.0" font-size="28" text-anchor="start">INDxy</text>
<line x1="938.2" y1="2305.0" x2="1002.4" y2="2305.0" stroke="#000" stroke-width="2.0"/>
<circle cx="970.0" cy="2305.0" r="13.0" fill="#003F80" stroke="#000" stroke-width="2.0"/>
<text x="1017.8" y="2313.2" font-size="28" text-anchor="start">IHDxy</text>
<polyline points="1362.4,1910.4 1561.0,1879.9 1759.5,1891.3 1958.2,1812.3" fill="none" stroke="#000" stroke-width="2.0" stroke-linejoin="round"/>
<path d="M1561.0 1840.9V1918.9M1550.0 1840.9H1572.0M1550.0 1918.9H1572.0" stroke="#000" stroke-width="2.0" fill="none"/>
<path d="M1759.5 1859.8V1922.8M1748.5 1859.8H1770.5M1748.5 1922.8H1770.5" stroke="#000" stroke-width="2.0" fill="none"/>
<path d="M1958.2 1794.3V1830.3M1947.2 1794.3H1969.2M1947.2 1830.3H1969.2" stroke="#000" stroke-width="2.0" fill="none"/>
<circle cx="1362.4" cy="1910.4" r="13.0" fill="#FFF0E0" stroke="#000" stroke-width="2.0"/>
<circle cx="1561.0" cy="1879.9" r="13.0" fill="#FFF0E0" stroke="#000" stroke-width="2.0"/>
<circle cx="1759.5" cy="1891.3" r="13.0" fill="#FFF0E0" stroke="#000" stroke-width="2.0"/>
<circle cx="1958.2" cy="1812.3" r="13.0" fill="#FFF0E0" stroke="#000" stroke-width="2.0"/>
<polyline points="1362.4,1840.5 1561.0,1856.4 1759.5,1785.1 1958.2,1734.4" fill="none" stroke="#000" stroke-width="2.0" stroke-linejoin="round"/>
<path d="M1362.4 1775.2V1905.8M1351.4 1775.2H1373.4M1351.4 1905.8H1373.4" stroke="#000" stroke-width="2.0" fill="none"/>
<path d="M1561.0 1833.0V1879.8M1550.0 1833.0H1572.0M1550.0 1879.8H1572.0" stroke="#000" stroke-width="2.0" fill="none"/>
<path d="M1759.5 1773.4V1796.8M1748.5 1773.4H1770.5M1748.5 1796.8H1770.5" stroke="#000" stroke-width="2.0" fill="none"/>
<path d="M1958.2 1716.9V1751.9M1947.2 1716.9H1969.2M1947.2 1751.9H1969.2" stroke="#000" stroke-width="2.0" fill="none"/>
<circle cx="1362.4" cy="1840.5" r="13.0" fill="#FFC0C0" stroke="#000" stroke-width="2.0"/>
<circle cx="1561.0" cy="1856.4" r="13.0" fill="#FFC0C0" stroke="#000" stroke-width="2.0"/>
<circle cx="1759.5" cy="1785.1" r="13.0" fill="#FFC0C0" stroke="#000" stroke-width="2.0"/>
<circle cx="1958.2" cy="1734.4" r="13.0" fill="#FFC0C0" stroke="#000" stroke-width="2.0"/>
<polyline points="1362.4,1841.0 1561.0,1869.0 1759.5,1827.3 1958.2,1708.5" fill="none" stroke="#000" stroke-width="2.0" stroke-linejoin="round"/>
<path d="M1362.4 1774.2V1907.8M1351.4 1774.2H1373.4M1351.4 1907.8H1373.4" stroke="#000" stroke-width="2.0" fill="none"/>
<path d="M1561.0 1832.0V1906.0M1550.0 1832.0H1572.0M1550.0 1906.0H1572.0" stroke="#000" stroke-width="2.0" fill="none"/>
<path d="M1759.5 1812.7V1841.9M1748.5 1812.7H1770.5M1748.5 1841.9H1770.5" stroke="#000" stroke-width="2.0" fill="none"/>
<path d="M1958.2 1694.2V1722.8M1947.2 1694.2H1969.2M1947.2 1722.8H1969.2" stroke="#000" stroke-width="2.0" fill="none"/>
<circle cx="1362.4" cy="1841.0" r="13.0" fill="#FF0000" stroke="#000" stroke-width="2.0"/>
<circle cx="1561.0" cy="1869.0" r="13.0" fill="#FF0000" stroke="#000" stroke-width="2.0"/>
<circle cx="1759.5" cy="1827.3" r="13.0" fill="#FF0000" stroke="#000" stroke-width="2.0"/>
<circle cx="1958.2" cy="1708.5" r="13.0" fill="#FF0000" stroke="#000" stroke-width="2.0"/>
<line x1="1978.2" y1="2228.8" x2="2042.6" y2="2228.8" stroke="#000" stroke-width="2.0"/>
<circle cx="2010.0" cy="2228.8" r="13.0" fill="#FFF0E0" stroke="#000" stroke-width="2.0"/>
<text x="2057.8" y="2237.0" font-size="28" text-anchor="start">SZD</text>
<line x1="1978.2" y1="2263.9" x2="2042.6" y2="2263.9" stroke="#000" stroke-width="2.0"/>
<circle cx="2010.0" cy="2263.9" r="13.0" fill="#FFC0C0" stroke="#000" stroke-width="2.0"/>
<text x="2057.8" y="2272.1" font-size="28" text-anchor="start">INDzd</text>
<line x1="1978.2" y1="2298.8" x2="2042.6" y2="2298.8" stroke="#000" stroke-width="2.0"/>
<circle cx="2010.0" cy="2298.8" r="13.0" fill="#FF0000" stroke="#000" stroke-width="2.0"/>
<text x="2057.8" y="2307.0" font-size="28" text-anchor="start">IHDzd</text>
</svg></body></html>
